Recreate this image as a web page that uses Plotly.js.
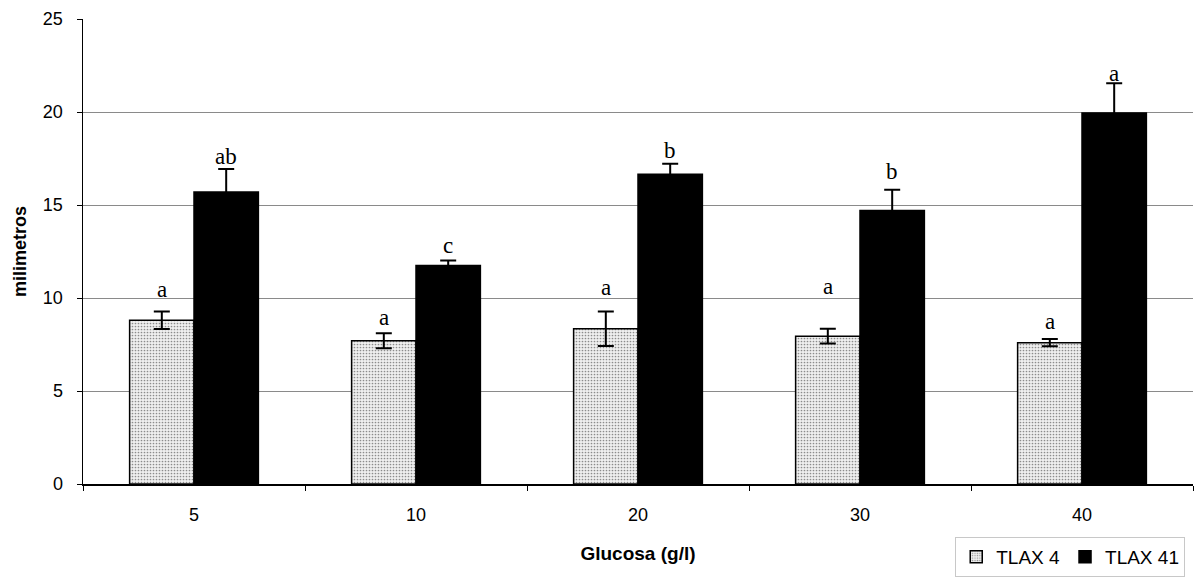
<!DOCTYPE html>
<html>
<head>
<meta charset="utf-8">
<script src="https://cdn.plot.ly/plotly-3.0.1.min.js"></script>
<style>
  html, body { margin: 0; padding: 0; background: #fff; }
  #chart { width: 1195px; height: 588px; }
</style>
</head>
<body>
<div id="chart"></div>
<script>
// Glucose concentrations (g/l)
const categories = ['5', '10', '20', '30', '40'];

// Mean growth (mm) and error per strain
const tlax4Values  = [8.8, 7.7, 8.35, 7.95, 7.6];
const tlax4Errors  = [0.47, 0.4, 0.93, 0.4, 0.2];
const tlax41Values = [15.7, 11.75, 16.65, 14.7, 19.95];
const tlax41Errors = [1.24, 0.27, 0.57, 1.12, 1.6];

// Significance letters
const tlax4Letters  = ['a', 'a', 'a', 'a', 'a'];
const tlax41Letters = ['ab', 'c', 'b', 'b', 'a'];

// Extra lift (px) for each letter above its error bar
const lift4  = [10, 3, 11, 30, 5];
const lift41 = [0, 2, 1, 6, -3];

const serif = 'Liberation Serif, Times New Roman, serif';
const sans = 'Liberation Sans, Arial, sans-serif';

const traces = [
  {
    type: 'bar', name: 'TLAX 4', x: categories, y: tlax4Values,
    marker: {
      color: '#eaeaea',
      line: { color: '#000', width: 1.5 },
      pattern: { shape: '.', fgcolor: '#8c8c8c', bgcolor: '#efefef', size: 3, solidity: 0.25 }
    },
    error_y: { type: 'data', array: tlax4Errors, visible: true, color: '#000', thickness: 2, width: 8 }
  },
  {
    type: 'bar', name: 'TLAX 41', x: categories, y: tlax41Values,
    marker: { color: '#000', line: { color: '#000', width: 1.5 } },
    error_y: { type: 'data', array: tlax41Errors, visible: true, color: '#000', thickness: 2, width: 8 }
  }
];

// Letters sit above each error bar; category index is used as x
const shift = 32;
const annotations = [];
categories.forEach((c, i) => {
  annotations.push({
    x: i, y: tlax4Values[i] + tlax4Errors[i], text: tlax4Letters[i],
    xref: 'x', yref: 'y', showarrow: false, xshift: -shift, yanchor: 'bottom', yshift: -2 + lift4[i],
    font: { family: serif, size: 23, color: '#000' }
  });
  annotations.push({
    x: i, y: tlax41Values[i] + tlax41Errors[i], text: tlax41Letters[i],
    xref: 'x', yref: 'y', showarrow: false, xshift: shift, yanchor: 'bottom', yshift: -2 + lift41[i],
    font: { family: serif, size: 23, color: '#000' }
  });
});

const layout = {
  width: 1195, height: 588,
  margin: { l: 83, r: 2, t: 19, b: 104, pad: 0 },
  paper_bgcolor: '#fff', plot_bgcolor: '#fff',
  barmode: 'group', bargap: 0.42, bargroupgap: 0,
  showlegend: true,
  legend: {
    orientation: 'h', x: 0.993, y: -0.114, xanchor: 'right', yanchor: 'top',
    bgcolor: '#fff', bordercolor: '#c8c8c8', borderwidth: 1,
    font: { family: sans, size: 19, color: '#000' },
    itemwidth: 30, tracegroupgap: 0
  },
  xaxis: {
    type: 'category', range: [-0.5, 4.5], autorange: false,
    showline: true, linecolor: '#000', linewidth: 1.5,
    ticks: 'outside', tickson: 'boundaries', ticklen: 5, tickcolor: '#000',
    tickfont: { family: sans, size: 18, color: '#000' },
    ticklabelstandoff: 14,
    showgrid: false,
    title: { text: '<b>Glucosa (g/l)</b>', font: { family: sans, size: 19, color: '#000' }, standoff: 22 }
  },
  yaxis: {
    range: [0, 25], autorange: false, dtick: 5,
    showline: true, linecolor: '#000', linewidth: 1.5,
    ticks: 'outside', ticklen: 5, tickcolor: '#000',
    tickfont: { family: sans, size: 18, color: '#000' },
    ticklabelstandoff: 10,
    showgrid: true, gridcolor: '#8a8a8a', gridwidth: 1,
    zeroline: false,
    title: { text: '<b>milimetros</b>', font: { family: sans, size: 18, color: '#000' }, standoff: 11 }
  },
  annotations: annotations
};

Plotly.newPlot('chart', traces, layout, { displayModeBar: false, staticPlot: true });
</script>
</body>
</html>
